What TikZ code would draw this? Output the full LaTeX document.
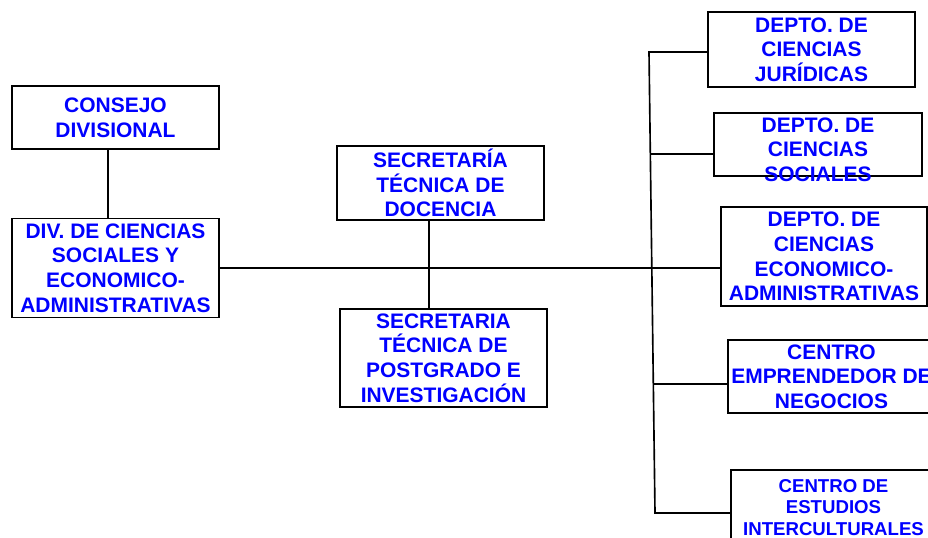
\documentclass[tikz,border=0pt]{standalone}
\usepackage{fontspec}
\setmainfont{Liberation Sans}
\usepackage{tikz}
\tikzset{caja/.style={draw, line width=1.4pt, inner sep=0pt, text=blue, align=center,
    font=\bfseries\fontsize{17.9}{21}\selectfont, minimum width=6.21cm}}
\tikzset{texto/.style={inner sep=0pt, text=blue, align=center,
    font=\bfseries\fontsize{17.9}{21}\selectfont}}
\tikzset{chica/.style={font=\bfseries\fontsize{15.9}{18.3}\selectfont}}
\tikzset{linea/.style={line width=1.4pt}}

\begin{document}
\begin{tikzpicture}[x=0.03cm, y=-0.03cm]
    \useasboundingbox (0, 0) rectangle (928, 538);
    \node[caja, minimum height=1.89cm](consejo) at (115.5, 117.5){CONSEJO\\DIVISIONAL};
    \node[caja, minimum height=2.97cm](div) at (115.5, 268){DIV. DE CIENCIAS\\SOCIALES Y\\ECONOMICO-\\ADMINISTRATIVAS};
    \node[caja, minimum height=2.22cm](doc) at (440.5, 183){SECRETAR\'IA\\T\'ECNICA DE\\DOCENCIA};
    \node[caja, minimum height=2.94cm](pos) at (443.5, 358){SECRETARIA\\T\'ECNICA DE\\POSTGRADO E\\INVESTIGACI\'ON};
    \node[caja, minimum height=2.25cm](jur) at (811.5, 49.5){DEPTO. DE\\CIENCIAS\\JUR\'IDICAS};
    \node[caja, minimum width=6.24cm, minimum height=1.89cm](soc) at (818, 144.5){};
    \node[texto, anchor=north](soctxt) at ([yshift=-0.15cm]soc.north){DEPTO. DE\\CIENCIAS\\SOCIALES};
    \node[caja, minimum width=6.18cm, minimum height=2.97cm](eco) at (824, 256.5){DEPTO. DE\\CIENCIAS\\ECONOMICO-\\ADMINISTRATIVAS};
    \node[caja, minimum height=2.19cm](emp) at (831.5, 376.5){CENTRO\\EMPRENDEDOR DE\\NEGOCIOS};
    \node[caja, chica, minimum width=6.15cm, minimum height=2.25cm](est) at (833.5, 507.5){CENTRO DE\\ESTUDIOS\\INTERCULTURALES};

    \coordinate (cj) at (108, 268);
    \coordinate (jn) at (429, 268);
    \coordinate (sp1) at (649, 52);
    \coordinate (sp2) at (655, 513);
    \coordinate (bsoc) at (650.3, 154);
    \coordinate (bemp) at (653.3, 384);
    \draw[linea](consejo.south -| cj)--(div.north -| cj);
    \draw[linea](div.east)--(eco.west |- jn);
    \draw[linea](doc.south -| jn)--(pos.north -| jn);
    \draw[linea](jur.west |- sp1)--(sp1)--(sp2)--(est.west |- sp2);
    \draw[linea](bsoc)--(soc.west |- bsoc);
    \draw[linea](bemp)--(emp.west |- bemp);
\end{tikzpicture}
\end{document}
